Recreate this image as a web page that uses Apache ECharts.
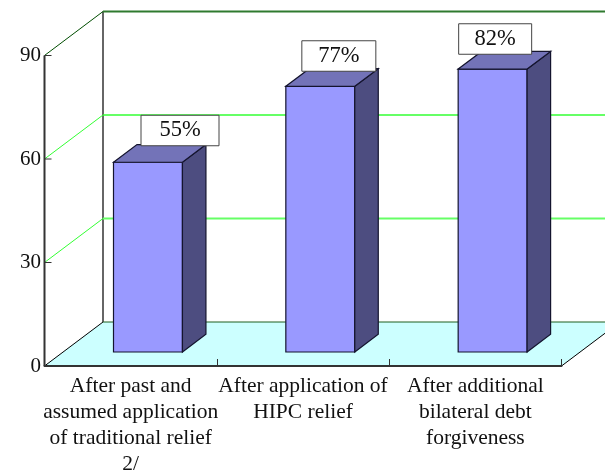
<!DOCTYPE html>
<html><head><meta charset="utf-8">
<style>html,body{margin:0;padding:0;background:#fff}#c{width:605px;height:474px}</style>
<script src="https://cdn.jsdelivr.net/npm/echarts@6/dist/echarts.min.js"></script>
</head><body><div id="c"></div>
<script>
const categories = ["After past and\nassumed application\nof traditional relief\n2/", "After application of\nHIPC relief", "After additional\nbilateral debt\nforgiveness"];
const values = [55, 77, 82];
const yTicks = [0, 30, 60, 90];
const backColors = ["#1f5f1f", "#66ff66", "#33ff33", "#2f7a2f"];
const backWidths = [1, 2, 1.5, 2];
const slantColors = ["#000000", "#33ff33", "#33ff33", "#004d00"];

const DX = 58.5, DY = 44;            // wall depth
const BAR_DX = 23.5, BAR_DY = 17.7;  // bar depth
const BAR_SHIFT = 17.3, BAR_LIFT = 14; // bar offset on the floor
const LABEL_DX = [66.5, 53, 37], LABEL_W = [78, 74, 73], LABEL_DY = [31.75, 30.35, 30.1], LABEL_H = 30.5;
const FONT = '"Liberation Serif","Times New Roman",serif';

function line(pts, color, w) {
  return {type: 'polyline', shape: {points: pts}, style: {stroke: color, lineWidth: w, fill: null}};
}
function poly(pts, fill, stroke, w) {
  return {type: 'polygon', shape: {points: pts}, style: {fill: fill, stroke: stroke || null, lineWidth: w || 0}};
}

function renderWall(params, api) {
  const cs = params.coordSys, x0 = cs.x, x1 = cs.x + cs.width;
  const i = params.dataIndex, y = api.coord([0, api.value(1)])[1];
  const kids = [];
  if (i === 0) {
    const yTop = api.coord([0, yTicks[yTicks.length - 1]])[1];
    kids.push(poly([[x0, y], [x1, y], [x1 + DX, y - DY], [x0 + DX, y - DY]], '#ccffff'));
    kids.push(line([[x1, y], [x1 + DX, y - DY]], '#000', 1));
    kids.push(line([[x0 + DX, y - DY], [x0 + DX, yTop - DY]], '#333', 1.5));
  }
  kids.push(line([[x0, y], [x0 + DX, y - DY]], slantColors[i], 1));
  kids.push(line([[x0 + DX, y - DY], [x1 + DX, y - DY]], backColors[i], backWidths[i]));
  return {type: 'group', children: kids};
}

function renderAxis(params, api) {
  const cs = params.coordSys, x0 = cs.x;
  const i = params.dataIndex, y = api.coord([0, api.value(1)])[1];
  const kids = [];
  if (i === 0) {
    const yTop = api.coord([0, yTicks[yTicks.length - 1]])[1];
    kids.push(line([[x0, y], [x0, yTop]], '#333', 2));
  }
  kids.push(line([[x0, y], [x0 + 7, y]], '#333', 1));
  return {type: 'group', children: kids};
}

function renderBar(params, api) {
  const i = params.dataIndex, v = api.value(1);
  const c0 = api.coord([i, 0]), cv = api.coord([i, v]);
  const w = api.size([1, 0])[0] * 0.4;
  const l = c0[0] + BAR_SHIFT - w / 2, r = l + w;
  const b = c0[1] - BAR_LIFT, t = cv[1] - BAR_LIFT;
  const edge = '#14142e';
  const lx = l + LABEL_DX[i] - LABEL_W[i] / 2, ly = t - LABEL_DY[i] - LABEL_H / 2;
  return {type: 'group', children: [
    poly([[l, t], [r, t], [r, b], [l, b]], '#9999ff', edge, 1.2),
    poly([[r, t], [r + BAR_DX, t - BAR_DY], [r + BAR_DX, b - BAR_DY], [r, b]], '#4d4d80', edge, 1.2),
    poly([[l, t], [l + BAR_DX, t - BAR_DY], [r + BAR_DX, t - BAR_DY], [r, t]], '#7373b8', edge, 1.2),
    {type: 'rect', shape: {x: lx, y: ly, width: LABEL_W[i], height: LABEL_H},
     style: {fill: '#fff', stroke: '#444', lineWidth: 1}},
    {type: 'text', style: {x: lx + LABEL_W[i] / 2, y: ly + LABEL_H / 2, text: v + '%',
      align: 'center', verticalAlign: 'middle', font: '22.5px ' + FONT, fill: '#111'}}
  ]};
}

const chart = echarts.init(document.getElementById('c'), null, {renderer: 'canvas'});
chart.setOption({
  animation: false,
  backgroundColor: '#fff',
  grid: {left: 44.5, right: 43.5, top: 55.5, bottom: 108, containLabel: false, outerBoundsMode: 'none'},
  xAxis: {
    type: 'category', data: categories,
    axisLine: {lineStyle: {color: '#333', width: 2}},
    axisTick: {show: true, inside: true, length: 7, lineStyle: {color: '#333', width: 1}},
    axisLabel: {interval: 0, margin: 7, fontFamily: FONT, fontSize: 21.5, lineHeight: 26, color: '#111'},
    splitLine: {show: false}
  },
  yAxis: {
    type: 'value', min: 0, max: 90, interval: 30,
    axisLine: {show: false},
    axisTick: {show: false},
    axisLabel: {margin: 3.5, fontFamily: FONT, fontSize: 21, lineHeight: 26, color: '#111', padding: [4, 0, 0, 0]},
    splitLine: {show: false}
  },
  series: [
    {type: 'custom', z: -1, silent: true, clip: false, renderItem: renderWall,
     encode: {x: 0, y: 1}, data: yTicks.map(t => [0, t])},
    {type: 'custom', z: 5, silent: true, clip: false, renderItem: renderAxis,
     encode: {x: 0, y: 1}, data: yTicks.map(t => [0, t])},
    {type: 'custom', z: 3, silent: true, clip: false, renderItem: renderBar,
     encode: {x: 0, y: 1}, data: values.map((v, i) => [i, v])}
  ]
});
</script></body></html>
